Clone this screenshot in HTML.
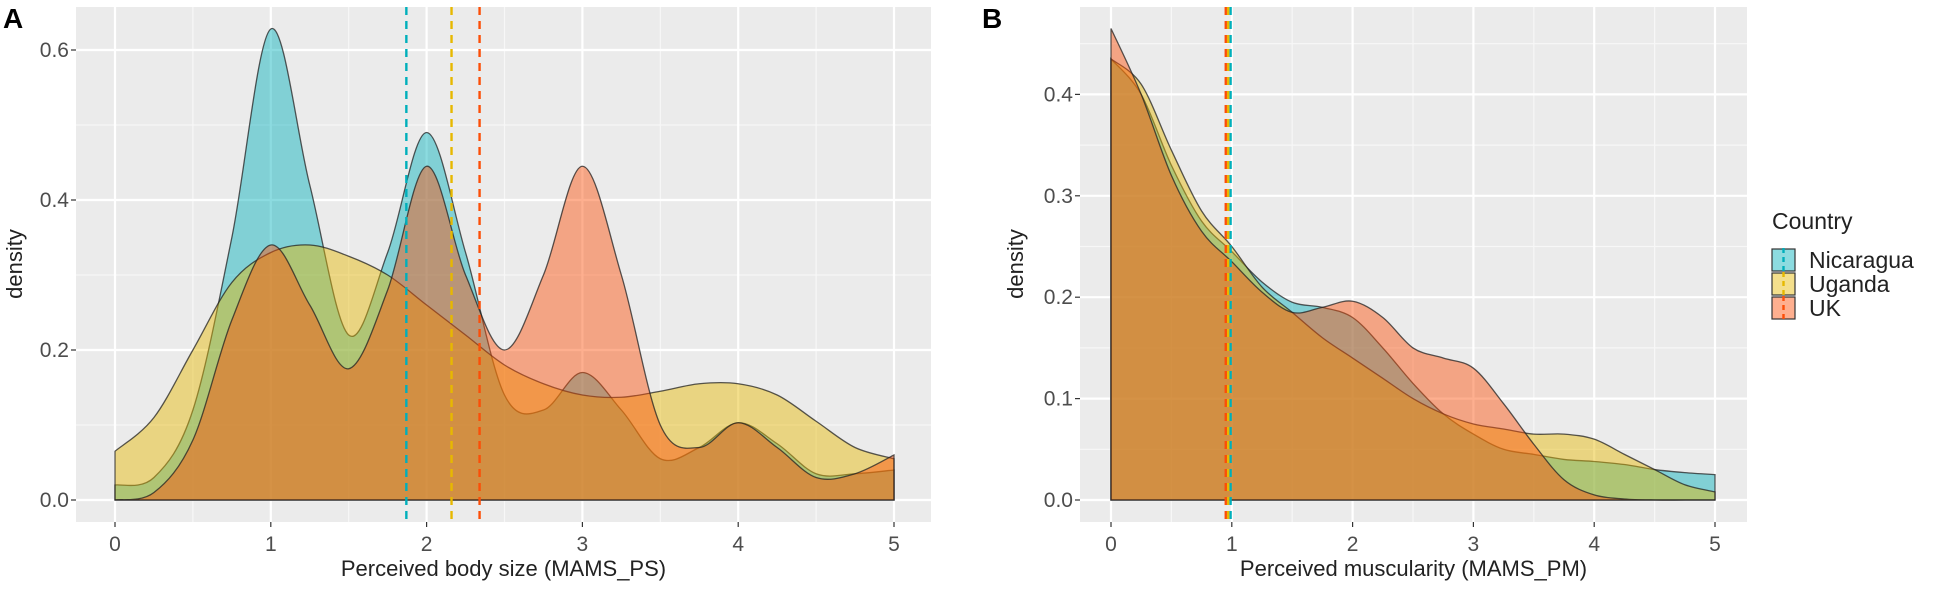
<!DOCTYPE html>
<html><head><meta charset="utf-8">
<style>
html,body{margin:0;padding:0;background:#fff;}
svg{display:block;font-family:"Liberation Sans",Arial,sans-serif;}
</style></head>
<body>
<svg id="chart" width="1950" height="597" viewBox="0 0 1950 597" xmlns="http://www.w3.org/2000/svg">
<defs>
<clipPath id="clipA"><rect x="76" y="7" width="855" height="515"/></clipPath>
<clipPath id="clipB"><rect x="1080" y="7" width="667" height="515"/></clipPath>
</defs>
<g id="panelA"></g>
<g id="panelB"></g>
<g id="legend"></g>
</svg>
<script>
const countries = ["Nicaragua","Uganda","UK"];
const xGrid = [0,0.25,0.5,0.75,1,1.25,1.5,1.75,2,2.25,2.5,2.75,3,3.25,3.5,3.75,4,4.25,4.5,4.75,5];
const psNicaragua = [0.02,0.03,0.12,0.35,0.628,0.42,0.22,0.33,0.49,0.33,0.14,0.12,0.17,0.12,0.055,0.07,0.103,0.075,0.035,0.035,0.04];
const psUganda = [0.065,0.11,0.2,0.29,0.33,0.34,0.325,0.3,0.26,0.22,0.18,0.155,0.14,0.137,0.145,0.155,0.155,0.14,0.105,0.07,0.055];
const psUK = [0,0.01,0.08,0.24,0.34,0.26,0.175,0.28,0.445,0.3,0.2,0.3,0.445,0.3,0.1,0.07,0.103,0.07,0.03,0.035,0.06];
const pmNicaragua = [0.435,0.4,0.33,0.275,0.245,0.215,0.195,0.19,0.18,0.15,0.115,0.085,0.065,0.05,0.045,0.04,0.038,0.035,0.03,0.027,0.025];
const pmUganda = [0.435,0.41,0.345,0.285,0.25,0.21,0.185,0.16,0.14,0.12,0.1,0.085,0.075,0.07,0.065,0.065,0.06,0.045,0.03,0.015,0.008];
const pmUK = [0.465,0.4,0.32,0.265,0.235,0.205,0.185,0.19,0.196,0.18,0.15,0.14,0.13,0.095,0.055,0.02,0.005,0.001,0,0,0];
const psMeans = [1.87,2.16,2.34];
const pmMeans = [0.99,0.97,0.95];
const xTicks = [0,1,2,3,4,5];
const yTicksA = [0.0,0.2,0.4,0.6];
const yTicksB = [0.0,0.1,0.2,0.3,0.4];
const colors = ["#00AFBB","#E7B800","#FC4E07"];

const NS="http://www.w3.org/2000/svg";
function mk(tag, attrs, parent){const e=document.createElementNS(NS,tag);for(const k in attrs)e.setAttribute(k,attrs[k]);parent.appendChild(e);return e;}

function smoothPath(pts){
  let d="M"+pts[0][0]+","+pts[0][1];
  for(let i=0;i<pts.length-1;i++){
    const p0=pts[Math.max(0,i-1)],p1=pts[i],p2=pts[i+1],p3=pts[Math.min(pts.length-1,i+2)];
    const c1x=p1[0]+(p2[0]-p0[0])/6,c1y=p1[1]+(p2[1]-p0[1])/6;
    const c2x=p2[0]-(p3[0]-p1[0])/6,c2y=p2[1]-(p3[1]-p1[1])/6;
    d+=" C"+c1x+","+c1y+" "+c2x+","+c2y+" "+p2[0]+","+p2[1];
  }
  return d;
}

function panel(g, cfg){
  const sx=v=>cfg.x0+v*(cfg.x5-cfg.x0)/5;
  const sy=v=>cfg.y0-v*cfg.yUnit;
  const bg=mk("rect",{x:cfg.left,y:7,width:cfg.right-cfg.left,height:515,fill:"#EBEBEB"},g);
  
  
  for(let v=0.5;v<5;v+=1){
    const l=mk("line",{x1:sx(v),x2:sx(v),y1:7,y2:522,stroke:"#F7F7F7","stroke-width":1.2},g);
    
    
  }
  for(let i=0;i<cfg.yTicks.length;i++){
    const v=cfg.yTicks[i]+cfg.minorStep;
    if(sy(v)<7) continue;
    const l=mk("line",{x1:cfg.left,x2:cfg.right,y1:sy(v),y2:sy(v),stroke:"#F7F7F7","stroke-width":1.2},g);
    
    
  }
  xTicks.forEach(v=>{
    const l=mk("line",{x1:sx(v),x2:sx(v),y1:7,y2:522,stroke:"#FFFFFF","stroke-width":2.2},g);
    
    
    const t=mk("line",{x1:sx(v),x2:sx(v),y1:522,y2:527,stroke:"#333","stroke-width":1.2},g);
    
    
    const tx=mk("text",{x:sx(v),y:551,"text-anchor":"middle","font-size":21,fill:"#4D4D4D"},g);
    tx.textContent=String(v);
    
    
  });
  cfg.yTicks.forEach(v=>{
    const l=mk("line",{x1:cfg.left,x2:cfg.right,y1:sy(v),y2:sy(v),stroke:"#FFFFFF","stroke-width":2.2},g);
    
    
    const t=mk("line",{x1:cfg.left-5,x2:cfg.left,y1:sy(v),y2:sy(v),stroke:"#333","stroke-width":1.2},g);
    
    
    const tx=mk("text",{x:cfg.left-7,y:sy(v)+7,"text-anchor":"end","font-size":21,fill:"#4D4D4D"},g);
    tx.textContent=v.toFixed(1);
    
    
  });
  const cg=mk("g",{"clip-path":"url(#"+cfg.clip+")"},g);
  cfg.series.forEach((s,i)=>{
    const pts=xGrid.map((x,j)=>[sx(x),sy(s[j])]);
    const d=smoothPath(pts)+" L"+sx(5)+","+sy(0)+" L"+sx(0)+","+sy(0)+" Z";
    const p=mk("path",{d:d,fill:colors[i],"fill-opacity":0.45,stroke:"#222","stroke-opacity":0.75,"stroke-width":1.3},cg);
    
    
  });
  cfg.means.forEach((m,i)=>{
    const l=mk("line",{x1:sx(m),x2:sx(m),y1:7,y2:522,stroke:colors[i],"stroke-width":2.4,"stroke-dasharray":"8,6"},g);
    
    
  });
  const xt=mk("text",{x:(cfg.left+cfg.right)/2,y:576,"text-anchor":"middle","font-size":22,fill:"#222"},g);
  xt.textContent=cfg.xTitle;
  
  
  const yt=mk("text",{x:0,y:0,"text-anchor":"middle","font-size":22,fill:"#222",transform:"translate("+cfg.yTitleX+",264) rotate(-90)"},g);
  yt.textContent="density";
  
  
  const lab=mk("text",{x:cfg.labelX,y:28,"font-size":28,"font-weight":"bold",fill:"#000"},g);
  lab.textContent=cfg.label;
  
  
}

panel(document.getElementById("panelA"),{left:76,right:931,x0:115,x5:894,y0:500,yUnit:750,yTicks:yTicksA,minorStep:0.1,clip:"clipA",
  series:[psNicaragua,psUganda,psUK],means:psMeans,xTitle:"Perceived body size (MAMS_PS)",yTitleX:22,label:"A",labelX:3});
panel(document.getElementById("panelB"),{left:1080,right:1747,x0:1111,x5:1715,y0:500,yUnit:1014,yTicks:yTicksB,minorStep:0.05,clip:"clipB",
  series:[pmNicaragua,pmUganda,pmUK],means:pmMeans,xTitle:"Perceived muscularity (MAMS_PM)",yTitleX:1023,label:"B",labelX:982});

const lg=document.getElementById("legend");
const lt=mk("text",{x:1772,y:229,"font-size":23,fill:"#222"},lg);
lt.textContent="Country";


countries.forEach((c,i)=>{
  const y=248+i*24;
  const g=mk("g",{},lg);
  
  
  const r=mk("rect",{x:1772,y:y+1,width:23,height:22,fill:colors[i],"fill-opacity":0.45,stroke:"#333","stroke-width":1.2},g);
  
  
  const l=mk("line",{x1:1783.5,x2:1783.5,y1:y,y2:y+24,stroke:colors[i],"stroke-width":2.4,"stroke-dasharray":"5,4"},g);
  
  
  const t=mk("text",{x:1809,y:y+20,"font-size":23,fill:"#222"},g);
  t.textContent=c;
  
  
});
</script>
</body></html>
